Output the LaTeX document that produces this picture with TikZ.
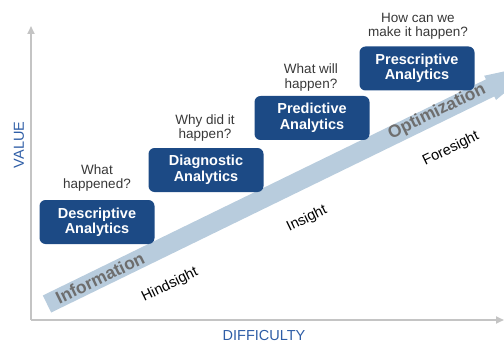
\documentclass[tikz,border=0pt]{standalone}
\usepackage{fontspec}
\setmainfont{Liberation Sans}
\usetikzlibrary{arrows.meta}
\definecolor{boxnavy}{HTML}{1C4A85}
\definecolor{bandblue}{HTML}{B8CCDD}
\definecolor{axisgray}{HTML}{C4C4C4}
\definecolor{qgray}{HTML}{383838}
\definecolor{bandtext}{HTML}{6E6E6E}
\definecolor{axisblue}{HTML}{2E5DA6}
\tikzset{
  anbox/.style={fill=boxnavy, rounded corners=6pt, minimum width=115pt, minimum height=44pt,
    text=white, align=center, font=\fontsize{14.5}{15.5}\selectfont\bfseries, inner sep=0pt},
  question/.style={text=qgray, align=center, font=\fontsize{13.5}{14.5}\selectfont, inner sep=0pt},
  sight/.style={text=black, font=\fontsize{14.5}{16}\selectfont, rotate=26, inner sep=0pt},
  bandlabel/.style={text=bandtext, font=\fontsize{17.5}{19}\selectfont\bfseries, rotate=26, inner sep=0pt},
  axislabel/.style={text=axisblue, font=\fontsize{14.5}{16}\selectfont, inner sep=0pt},
  axis/.style={draw=axisgray, line width=1.8pt, -{Triangle[length=8pt,width=7pt]}}
}
\begin{document}
\begin{tikzpicture}[x=1pt,y=-1pt]
\useasboundingbox (0,0) rectangle (504,345);
\clip (0,0) rectangle (504,345);
% axes
\coordinate (O) at (31,320);
\coordinate (Ytop) at (31,26);
\coordinate (Xend) at (504,320);
\draw[axis] (O) -- (Ytop);
\draw[axis] (O) -- (Xend);
\node[axislabel, rotate=90] (value) at (19,145) {VALUE};
\node[axislabel] (difficulty) at (264,336) {DIFFICULTY};
% band arrow
\begin{scope}[shift={(47,304)}, rotate=26, y=1pt]
  \fill[bandblue] (0,-9.5) -- (493,-9.5) -- (493,-13.5) -- (548,0) -- (493,13.5) -- (493,9.5) -- (0,9.5) -- cycle;
\end{scope}
\node[bandlabel] (information) at (100,278) {Information};
\node[bandlabel] (optimization) at (437,112) {Optimization};
% sight labels
\node[sight] (hindsight) at (170,285) {Hindsight};
\node[sight] (insight) at (307,219) {Insight};
\node[sight] (foresight) at (451,149) {Foresight};
% boxes
\node[anbox] (desc) at (97,222) {Descriptive\\Analytics};
\node[anbox] (diag) at (206,170) {Diagnostic\\Analytics};
\node[anbox] (pred) at (312,118) {Predictive\\Analytics};
\node[anbox] (presc) at (417,68.5) {Prescriptive\\Analytics};
% questions
\node[question] (q1) at (97,178) {What\\happened?};
\node[question] (q2) at (205,128) {Why did it\\happen?};
\node[question] (q3) at (311,77.5) {What will\\happen?};
\node[question] (q4) at (418,26.5) {How can we\\make it happen?};
\end{tikzpicture}
\end{document}
